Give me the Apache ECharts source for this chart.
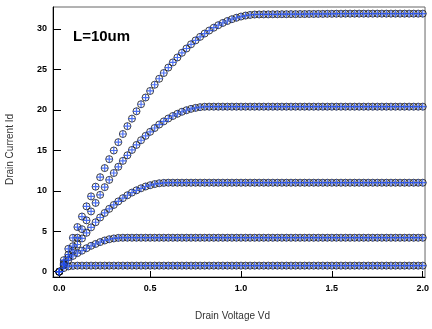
<!DOCTYPE html>
<html>
<head>
<meta charset="utf-8">
<script src="https://cdn.jsdelivr.net/npm/echarts@6/dist/echarts.min.js"></script>
<style>html,body{margin:0;padding:0;background:#fff;}#c{width:432px;height:329px;}</style>
</head>
<body>
<div id="c"></div>
<script>
const vd = [0,0.025,0.05,0.075,0.1,0.125,0.15,0.175,0.2,0.225,
0.25,0.275,0.3,0.325,0.35,0.375,0.4,0.425,0.45,0.475,
0.5,0.525,0.55,0.575,0.6,0.625,0.65,0.675,0.7,0.725,
0.75,0.775,0.8,0.825,0.85,0.875,0.9,0.925,0.95,0.975,
1.0,1.025,1.05,1.075,1.1,1.125,1.15,1.175,1.2,1.225,
1.25,1.275,1.3,1.325,1.35,1.375,1.4,1.425,1.45,1.475,
1.5,1.525,1.55,1.575,1.6,1.625,1.65,1.675,1.7,1.725,
1.75,1.775,1.8,1.825,1.85,1.875,1.9,1.925,1.95,1.975,2.0];

const id1 = [0,1.43,2.83,4.19,5.52,6.82,8.08,9.31,10.51,11.68,
12.81,13.91,14.98,16.01,17.02,17.99,18.92,19.83,20.70,21.53,
22.34,23.11,23.85,24.56,25.23,25.87,26.48,27.06,27.59,28.11,
28.59,29.03,29.44,29.81,30.16,30.47,30.75,30.99,31.21,31.39,
31.54,31.66,31.74,31.79,31.80,31.81,31.81,31.82,31.82,31.83,
31.83,31.84,31.84,31.85,31.85,31.86,31.86,31.87,31.87,31.88,
31.88,31.89,31.89,31.9,31.9,31.9,31.9,31.9,31.9,31.9,
31.9,31.9,31.9,31.9,31.9,31.9,31.9,31.9,31.9,31.9,31.9];

const id2 = [0,1.05,2.1,3.15,4.2,5.25,6.35,7.45,8.5,9.5,
10.45,11.35,12.2,12.97,13.70,14.39,15.05,15.67,16.25,16.79,
17.29,17.76,18.19,18.58,18.94,19.25,19.52,19.77,19.96,20.13,
20.25,20.34,20.39,20.4,20.4,20.4,20.4,20.4,20.4,20.4,
20.4,20.4,20.4,20.4,20.4,20.4,20.4,20.4,20.4,20.4,
20.4,20.4,20.4,20.4,20.4,20.4,20.4,20.4,20.4,20.4,
20.4,20.4,20.4,20.4,20.4,20.4,20.4,20.4,20.4,20.4,
20.4,20.4,20.4,20.4,20.4,20.4,20.4,20.4,20.4,20.4,20.4];

const id3 = [0,0.90,1.76,2.58,3.36,4.11,4.81,5.48,6.11,6.70,
7.26,7.77,8.25,8.69,9.09,9.45,9.78,10.06,10.31,10.53,
10.69,10.83,10.93,10.98,11.0,11.0,11.0,11.0,11.0,11.0,
11.0,11.0,11.0,11.0,11.0,11.0,11.0,11.0,11.0,11.0,
11.0,11.0,11.0,11.0,11.0,11.0,11.0,11.0,11.0,11.0,
11.0,11.0,11.0,11.0,11.0,11.0,11.0,11.0,11.0,11.0,
11.0,11.0,11.0,11.0,11.0,11.0,11.0,11.0,11.0,11.0,
11.0,11.0,11.0,11.0,11.0,11.0,11.0,11.0,11.0,11.0,11.0];

const id4 = [0,0.8,1.45,1.95,2.3,2.6,2.9,3.2,3.43,3.66,
3.86,4.01,4.11,4.18,4.2,4.2,4.2,4.2,4.2,4.2,
4.2,4.2,4.2,4.2,4.2,4.2,4.2,4.2,4.2,4.2,
4.2,4.2,4.2,4.2,4.2,4.2,4.2,4.2,4.2,4.2,
4.2,4.2,4.2,4.2,4.2,4.2,4.2,4.2,4.2,4.2,
4.2,4.2,4.2,4.2,4.2,4.2,4.2,4.2,4.2,4.2,
4.2,4.2,4.2,4.2,4.2,4.2,4.2,4.2,4.2,4.2,
4.2,4.2,4.2,4.2,4.2,4.2,4.2,4.2,4.2,4.2,4.2];

const id5 = [0,0.45,0.65,0.72,0.75,0.75,0.75,0.75,0.75,0.75,
0.75,0.75,0.75,0.75,0.75,0.75,0.75,0.75,0.75,0.75,
0.75,0.75,0.75,0.75,0.75,0.75,0.75,0.75,0.75,0.75,
0.75,0.75,0.75,0.75,0.75,0.75,0.75,0.75,0.75,0.75,
0.75,0.75,0.75,0.75,0.75,0.75,0.75,0.75,0.75,0.75,
0.75,0.75,0.75,0.75,0.75,0.75,0.75,0.75,0.75,0.75,
0.75,0.75,0.75,0.75,0.75,0.75,0.75,0.75,0.75,0.75,
0.75,0.75,0.75,0.75,0.75,0.75,0.75,0.75,0.75,0.75,0.75];

const curves = [id1, id2, id3, id4, id5];
const xTicks = [0, 0.5, 1.0, 1.5, 2.0];
const yTicks = [0, 5, 10, 15, 20, 25, 30];
const annotation = 'L=10um';
const xTitle = 'Drain Voltage Vd';
const yTitle = 'Drain Current Id';

const chart = echarts.init(document.getElementById('c'), null, {renderer: 'canvas'});
const series = [];
curves.forEach(function (c, k) {
  const pts = vd.map(function (x, i) { return [x, c[i]]; });
  series.push({
    type: 'scatter', name: 'meas' + k, data: pts, symbol: 'circle', symbolSize: 7,
    itemStyle: {color: 'rgba(0,0,0,0)', borderColor: '#111', borderWidth: 1},
    silent: true, z: 2
  });
});
curves.forEach(function (c, k) {
  const pts = vd.map(function (x, i) { return [x, c[i]]; });
  series.push({
    type: 'scatter', name: 'sim' + k, data: pts,
    symbol: 'path://M5,0L5,10M0,5L10,5', symbolSize: 7, symbolKeepAspect: true,
    itemStyle: {color: 'rgba(0,0,0,0)', borderColor: '#1f4cf0', borderWidth: 1.2},
    silent: true, z: 3
  });
});

const labelFont = {fontFamily: 'Liberation Sans, Arial, sans-serif', fontWeight: 'bold', fontSize: 9, color: '#000'};

chart.setOption({
  animation: false,
  backgroundColor: '#fff',
  grid: {left: 53, top: 7, right: 3, bottom: 52, show: true, borderColor: '#666', borderWidth: 1},
  xAxis: {
    type: 'value', min: -0.0344, max: 2.0125,
    axisLine: {onZero: false, lineStyle: {color: '#000', width: 1}},
    axisTick: {inside: true, length: 6, customValues: xTicks, lineStyle: {color: '#000'}},
    axisLabel: Object.assign({customValues: xTicks, margin: 7, formatter: function (v) { return v.toFixed(1); }}, labelFont),
    splitLine: {show: false}
  },
  yAxis: {
    type: 'value', min: -0.655, max: 32.72,
    axisLine: {show: true, onZero: false, lineStyle: {color: '#000', width: 1}},
    axisTick: {show: true, inside: true, length: 8, customValues: yTicks, lineStyle: {color: '#000'}},
    axisLabel: Object.assign({customValues: yTicks, margin: 6, formatter: function (v) { return String(Math.round(v)); }}, labelFont),
    splitLine: {show: false}
  },
  graphic: [
    {type: 'text', x: 73, y: 36.5, style: {text: annotation, font: 'bold 15px "Liberation Sans", Arial, sans-serif', fill: '#000', align: 'left', verticalAlign: 'middle'}},
    {type: 'text', x: 232.5, y: 316, style: {text: xTitle, font: '10px "Liberation Sans", Arial, sans-serif', fill: '#333', align: 'center', verticalAlign: 'middle'}},
    {type: 'text', x: 10, y: 149.5, rotation: Math.PI / 2, style: {text: yTitle, font: '10px "Liberation Sans", Arial, sans-serif', fill: '#333', align: 'center', verticalAlign: 'middle'}}
  ],
  series: series
});
</script>
</body>
</html>
